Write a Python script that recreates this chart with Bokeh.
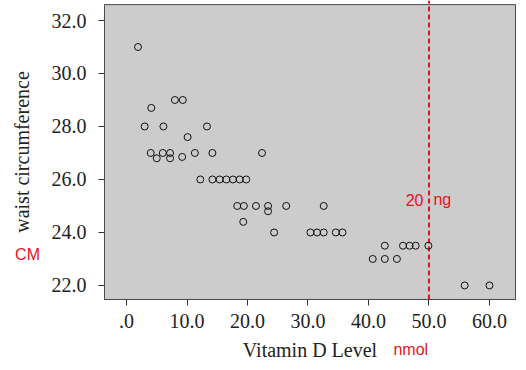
from bokeh.plotting import figure
from bokeh.models import ColumnDataSource, FixedTicker, Label, Range1d, PrintfTickFormatter, BoxAnnotation
from bokeh.embed import file_html
from bokeh.resources import INLINE

# data
vit_d = [1.9, 4.1, 8.0, 9.3, 3.0, 6.1, 13.3, 10.1, 4.0, 5.0, 6.0, 7.2, 7.2, 9.2, 11.3, 14.2, 22.4,
         12.2, 14.2, 15.4, 16.5, 17.6, 18.7, 19.8,
         18.3, 19.4, 21.4, 23.4, 23.4, 26.4, 19.3, 24.4, 32.6,
         30.4, 31.5, 32.6, 34.6, 35.7,
         42.7, 45.7, 46.8, 47.8, 49.9,
         40.7, 42.7, 44.7,
         55.9, 60.0]
waist = [31.0, 28.7, 29.0, 29.0, 28.0, 28.0, 28.0, 27.6, 27.0, 26.8, 27.0, 27.0, 26.8, 26.85, 27.0, 27.0, 27.0,
         26.0, 26.0, 26.0, 26.0, 26.0, 26.0, 26.0,
         25.0, 25.0, 25.0, 25.0, 24.8, 25.0, 24.4, 24.0, 25.0,
         24.0, 24.0, 24.0, 24.0, 24.0,
         23.5, 23.5, 23.5, 23.5, 23.5,
         23.0, 23.0, 23.0,
         22.0, 22.0]
x_ticks = [0, 10, 20, 30, 40, 50, 60]
y_ticks = [22, 24, 26, 28, 30, 32]
cutoff = 50

# plot-area extents (data units) and canvas extents
area_x = (-3.64, 64.3)
area_y = (21.47, 32.6)
canvas_x = (-20.83, 66.12)
canvas_y = (18.79, 32.755)

src = ColumnDataSource(dict(x=vit_d, y=waist))

p = figure(width=526, height=370, output_backend="svg", toolbar_location=None,
           x_range=Range1d(*canvas_x), y_range=Range1d(*canvas_y), min_border=0)

p.background_fill_color = "white"
p.border_fill_color = "white"
p.outline_line_color = None
p.grid.visible = False

p.add_layout(BoxAnnotation(left=area_x[0], right=area_x[1], bottom=area_y[0], top=area_y[1],
                           fill_color="#cccccc", fill_alpha=1, line_color="#4a4a4a",
                           line_alpha=1, line_width=1, level="underlay"))

p.segment(x0=[cutoff], y0=[area_y[0]], x1=[cutoff], y1=[canvas_y[1]],
          line_color="#e3131f", line_width=2, line_dash="5 3")

p.scatter("x", "y", source=src, size=7, fill_color=None, line_color="#111111", line_width=1)

serif = "Liberation Serif"
for ax in (p.xaxis[0], p.yaxis[0]):
    ax.major_label_text_font = serif
    ax.major_label_text_font_size = "20px"
    ax.major_label_text_color = "#222222"
    ax.axis_label_text_font = serif
    ax.axis_label_text_font_size = "20px"
    ax.axis_label_text_font_style = "normal"
    ax.axis_label_text_color = "#222222"
    ax.minor_tick_line_color = None
    ax.major_tick_in = 0
    ax.major_tick_out = 6
    ax.major_tick_line_color = "#333333"
    ax.axis_line_color = "#4a4a4a"

p.xaxis.fixed_location = area_y[0]
p.xaxis.bounds = area_x
p.xaxis.ticker = FixedTicker(ticks=x_ticks)
p.xaxis.formatter = PrintfTickFormatter(format="%.1f")
p.xaxis.major_label_overrides = {0: ".0"}
p.xaxis.axis_label = "Vitamin D Level"
p.xaxis.major_label_standoff = 9
p.xaxis.axis_label_standoff = 7

p.yaxis.fixed_location = area_x[0]
p.yaxis.bounds = area_y
p.yaxis.ticker = FixedTicker(ticks=y_ticks)
p.yaxis.formatter = PrintfTickFormatter(format="%.1f")
p.yaxis.axis_label = "waist circumference"
p.yaxis.major_label_standoff = 12
p.yaxis.axis_label_standoff = 16

red = "#e3131f"
sans = "Liberation Sans"
p.add_layout(Label(x=49.09, y=25.24, text="20", text_align="right", text_baseline="alphabetic",
                   text_font=sans, text_font_size="16px", text_color=red))
p.add_layout(Label(x=50.74, y=25.24, text="ng", text_align="left", text_baseline="alphabetic",
                   text_font=sans, text_font_size="16px", text_color=red))
p.add_layout(Label(x=-16.36, y=23.17, text="CM", text_align="center", text_baseline="alphabetic",
                   text_font=sans, text_font_size="16px", text_color=red))
p.add_layout(Label(x=44.13, y=19.58, text="nmol", text_align="left", text_baseline="alphabetic",
                   text_font=sans, text_font_size="16px", text_color=red))

open("out.html", "w").write(file_html(p, INLINE))
